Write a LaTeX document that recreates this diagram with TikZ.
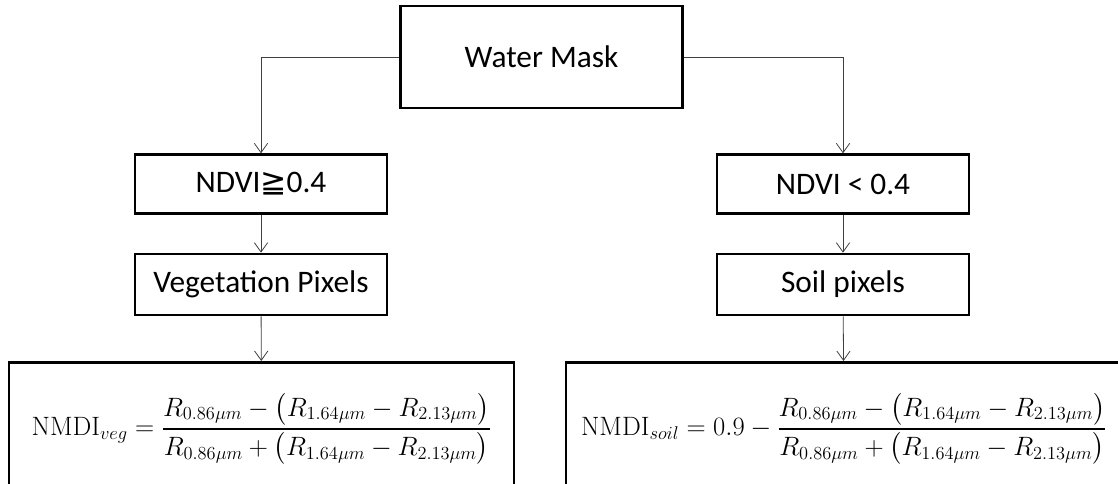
\documentclass[tikz,border=0pt]{standalone}
\usepackage{amsmath}
\usepackage{graphicx}
\usepackage[no-math]{fontspec}
\setmainfont{Carlito}
\newfontfamily\symfont{DejaVu Sans}
\usetikzlibrary{arrows.meta,positioning}

\newcommand{\nmdieq}[1]{\scalebox{0.96}{$\displaystyle #1$}}

\begin{document}
\begin{tikzpicture}[x=0.75pt,y=-0.75pt,
  box/.style={draw,rectangle,line width=2pt,inner sep=0pt,font=\fontsize{23.5}{28}\selectfont},
  test/.style={box,minimum width=189pt,minimum height=44pt},
  formula/.style={box,minimum height=100pt,font=\fontsize{20}{24}\selectfont},
  flow/.style={-{Straight Barb[length=7pt,width=10pt]},draw=black!75,line width=0.6pt}]

\useasboundingbox (0,0) rectangle (1118,483);
\clip (0,0) rectangle (1118,483);

% top
\node (mask)[box,minimum width=211.5pt,minimum height=76.5pt] at (541.5,57) {Water Mask};

% left branch
\node (ndvihigh)[test] at (261,184) {NDVI{\symfont ≧}0.4};
\node (veg)[test,minimum height=45.75pt] at (261,284.5) {Vegetation Pixels};
\node (nmdiveg)[formula,minimum width=378.75pt,anchor=north] at (261.5,361)
  {\nmdieq{\mathrm{NMDI}_{veg}=\frac{R_{0.86\mu m}-\bigl(R_{1.64\mu m}-R_{2.13\mu m}\bigr)}{R_{0.86\mu m}+\bigl(R_{1.64\mu m}-R_{2.13\mu m}\bigr)}}};

% right branch
\node (ndvilow)[test] at (843,184) {NDVI < 0.4};
\node (soil)[test,minimum height=45.75pt] at (843,284.5) {Soil pixels};
\node (nmdisoil)[formula,minimum width=417pt,anchor=north] at (844,361)
  {\nmdieq{\mathrm{NMDI}_{soil}=0.9-\frac{R_{0.86\mu m}-\bigl(R_{1.64\mu m}-R_{2.13\mu m}\bigr)}{R_{0.86\mu m}+\bigl(R_{1.64\mu m}-R_{2.13\mu m}\bigr)}}};

\draw[flow] (mask.west) -| (ndvihigh.north);
\draw[flow] (mask.east) -| (ndvilow.north);
\draw[flow] (ndvihigh) -- (veg);
\draw[flow] (ndvilow) -- (soil);
\draw[flow] (veg) -- (nmdiveg);
\draw[flow] (soil) -- (nmdisoil);

\end{tikzpicture}
\end{document}
